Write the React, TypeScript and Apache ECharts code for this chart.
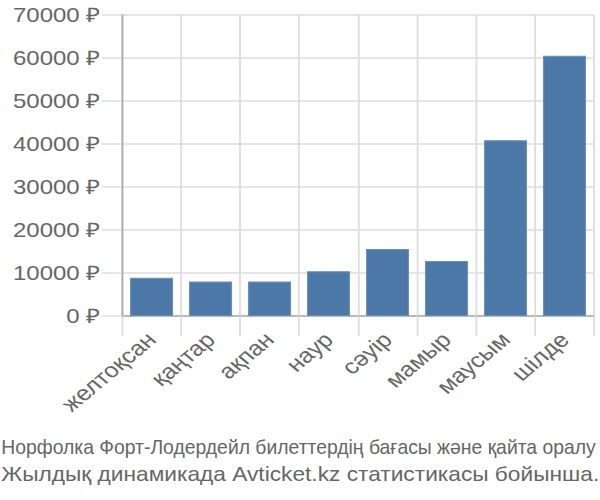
import React, { useEffect, useRef } from "react";
import * as echarts from "echarts";

const categories = ["желтоқсан", "қаңтар", "ақпан", "наур", "сәуір", "мамыр", "маусым", "шілде"];
const prices = [8900, 8000, 8000, 10400, 15600, 12800, 40900, 60500];
const yTicks = { min: 0, max: 70000, interval: 10000 };
const titleLines = [
  "Норфолка Форт-Лодердейл билеттердің бағасы және қайта оралу",
  "Жылдық динамикада Avticket.kz статистикасы бойынша.",
];

const FONT = "'Liberation Sans', Arial, sans-serif";
const TEXT = "#666";

function measure(text: string, size: number): number {
  const ctx = document.createElement("canvas").getContext("2d");
  if (!ctx) return text.length * size * 0.5;
  ctx.font = `${size}px 'Liberation Sans', Arial, sans-serif`;
  return ctx.measureText(text).width;
}

export default function App() {
  const ref = useRef<HTMLDivElement>(null);
  useEffect(() => {
    if (!ref.current) return;
    const chart = echarts.init(ref.current, undefined, { renderer: "svg" });
    const titleSize = 20;
    const targets = [496, 499];
    const ys = [447, 474];
    const graphic = titleLines.map((t, i) => {
      const w = measure(t, titleSize);
      return {
        type: "text",
        x: 1,
        y: ys[i],
        scaleX: targets[i] / w,
        style: {
          text: t,
          fontSize: titleSize,
          fontFamily: FONT,
          fill: TEXT,
          align: "left",
          verticalAlign: "middle",
        },
      };
    });
    chart.setOption({
      animation: false,
      grid: { left: 101.7, right: 5, top: 15, bottom: 184, containLabel: false },
      xAxis: {
        type: "category",
        data: categories,
        axisLine: { show: true, lineStyle: { color: "#aaa", width: 1.5 } },
        axisTick: { show: true, length: 20, alignWithLabel: false, lineStyle: { color: "#ddd", width: 1.5 } },
        splitLine: { show: true, lineStyle: { color: "#ddd", width: 1.5 } },
        axisLabel: {
          interval: 0,
          rotate: 45,
          fontSize: 21,
          fontFamily: FONT,
          color: TEXT,
          margin: 20,
        },
      },
      yAxis: {
        type: "value",
        min: yTicks.min,
        max: yTicks.max,
        interval: yTicks.interval,
        axisLine: { show: true, lineStyle: { color: "#aaa", width: 1.5 } },
        axisTick: { show: true, length: 17, lineStyle: { color: "#ddd", width: 1.5 } },
        splitLine: { show: true, lineStyle: { color: "#ddd", width: 1.5 } },
        axisLabel: {
          formatter: (v: number) => `${v} ₽`,
          fontSize: 20,
          fontFamily: FONT,
          color: TEXT,
          margin: 18,
        },
      },
      series: [
        {
          type: "bar",
          data: prices,
          barCategoryGap: "27%",
          itemStyle: { color: "#4c78a8", borderColor: "#6a8fbb", borderWidth: 1 },
        },
      ],
      graphic,
    });
    return () => chart.dispose();
  }, []);
  return (
    <div
      ref={ref}
      style={{
        position: "absolute",
        left: 0,
        top: 0,
        width: 500,
        height: 500,
        transform: "scaleX(1.2)",
        transformOrigin: "0 0",
      }}
    />
  );
}
